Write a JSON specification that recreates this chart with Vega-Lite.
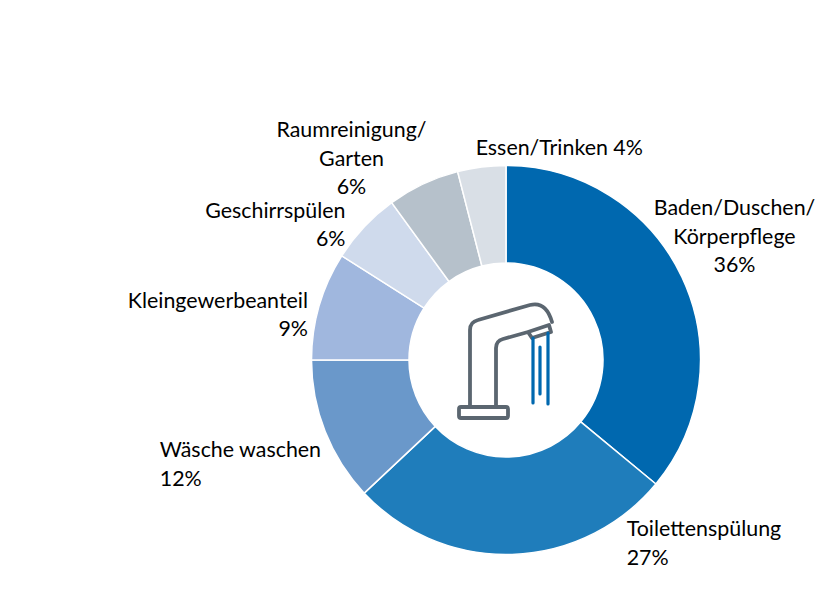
{
"$schema":"https://vega.github.io/schema/vega-lite/v6.json",
"width":634,"height":474,
"autosize":{"type":"none"},
"padding":{"left":189,"top":123,"right":0,"bottom":0},
"background":"white",
"view":{"stroke":null},
"data":{"values":[
{"order":1,"name":"Baden/Duschen/Körperpflege","share":36,"label":"Baden/Duschen/\nKörperpflege\n36%"},
{"order":2,"name":"Toilettenspülung","share":27,"label":"Toilettenspülung\n27%"},
{"order":3,"name":"Wäsche waschen","share":12,"label":"Wäsche waschen\n12%"},
{"order":4,"name":"Kleingewerbeanteil","share":9,"label":"Kleingewerbeanteil\n9%"},
{"order":5,"name":"Geschirrspülen","share":6,"label":"Geschirrspülen\n6%"},
{"order":6,"name":"Raumreinigung/Garten","share":6,"label":"Raumreinigung/\nGarten\n6%"},
{"order":7,"name":"Essen/Trinken","share":4,"label":"Essen/Trinken 4%"}
]},
"transform":[{"stack":"share","groupby":[],"sort":[{"field":"order","order":"ascending"}],"as":["s0","s1"]}],
"layer":[
{"mark":{"type":"arc","radius":194.5,"radius2":97,"stroke":"white","strokeWidth":1.5},
 "encoding":{
  "theta":{"field":"s0","type":"quantitative","scale":{"domain":[0,100]}},
  "theta2":{"field":"s1"},
  "color":{"field":"name","type":"nominal","legend":null,"sort":null,
   "scale":{"domain":["Baden/Duschen/Körperpflege","Toilettenspülung","Wäsche waschen","Kleingewerbeanteil","Geschirrspülen","Raumreinigung/Garten","Essen/Trinken"],
   "range":["#0068AF","#1F7DBB","#6A98CA","#A0B7DE","#CFDAEC","#B6C1CB","#D9DFE6"]}}
 }},
{"transform":[{"filter":"datum.order==1"}],"mark":{"type":"text","font":"Lato","fontSize":21.4,"lineHeight":28.5,"lineBreak":"\n","align":"center","baseline":"middle","color":"#000","radius":228,"dx":228.5,"dy":77},"encoding":{"theta":{"field":"s0","type":"quantitative"},"theta2":{"field":"s1"},"text":{"field":"label"}}},
{"transform":[{"filter":"datum.order==2"}],"mark":{"type":"text","font":"Lato","fontSize":21.4,"lineHeight":28.5,"lineBreak":"\n","align":"left","baseline":"middle","color":"#000","radius":228,"dx":-55,"dy":25},"encoding":{"theta":{"field":"s0","type":"quantitative"},"theta2":{"field":"s1"},"text":{"field":"label"}}},
{"transform":[{"filter":"datum.order==3"}],"mark":{"type":"text","font":"Lato","fontSize":21.4,"lineHeight":28.5,"lineBreak":"\n","align":"left","baseline":"middle","color":"#000","radius":228,"dx":-180,"dy":-65},"encoding":{"theta":{"field":"s0","type":"quantitative"},"theta2":{"field":"s1"},"text":{"field":"label"}}},
{"transform":[{"filter":"datum.order==4"}],"mark":{"type":"text","font":"Lato","fontSize":21.4,"lineHeight":28.5,"lineBreak":"\n","align":"right","baseline":"middle","color":"#000","radius":228,"dx":30,"dy":-58.5},"encoding":{"theta":{"field":"s0","type":"quantitative"},"theta2":{"field":"s1"},"text":{"field":"label"}}},
{"transform":[{"filter":"datum.order==5"}],"mark":{"type":"text","font":"Lato","fontSize":21.4,"lineHeight":28.5,"lineBreak":"\n","align":"right","baseline":"middle","color":"#000","radius":228,"dx":32,"dy":-26},"encoding":{"theta":{"field":"s0","type":"quantitative"},"theta2":{"field":"s1"},"text":{"field":"label"}}},
{"transform":[{"filter":"datum.order==6"}],"mark":{"type":"text","font":"Lato","fontSize":21.4,"lineHeight":28.5,"lineBreak":"\n","align":"center","baseline":"middle","color":"#000","radius":228,"dx":-20.5,"dy":-44.5},"encoding":{"theta":{"field":"s0","type":"quantitative"},"theta2":{"field":"s1"},"text":{"field":"label"}}},
{"transform":[{"filter":"datum.order==7"}],"mark":{"type":"text","font":"Lato","fontSize":21.4,"lineHeight":28.5,"lineBreak":"\n","align":"center","baseline":"middle","color":"#000","radius":228,"dx":110,"dy":10},"encoding":{"theta":{"field":"s0","type":"quantitative"},"theta2":{"field":"s1"},"text":{"field":"label"}}},
{"data":{"values":[{"icon":"faucet"}]},"transform":[],"mark":{"type":"point","filled":false,"size":4,"stroke":"#5B6670","strokeWidth":3.8,"opacity":1,"strokeCap":"round","strokeJoin":"round",
 "shape":"M-36 47V-30Q-36 -38 -28 -40L24 -55Q40 -59 46 -38M22 -28L-3 -21Q-10 -19 -10 -12V47M22 -28L26 -22L45 -28L43 -35ZM-43 47H0Q2 47 2 49V56Q2 58 0 58H-45Q-47 58 -47 56V49Q-47 47 -45 47Z"},"encoding":{}},
{"data":{"values":[{"icon":"water"}]},"transform":[],"mark":{"type":"point","filled":false,"size":4,"stroke":"#0068AF","strokeWidth":3.2,"opacity":1,"strokeCap":"round",
 "shape":"M27 -22V43M34 -13V34M42 -27V44"},"encoding":{}}
]
}
